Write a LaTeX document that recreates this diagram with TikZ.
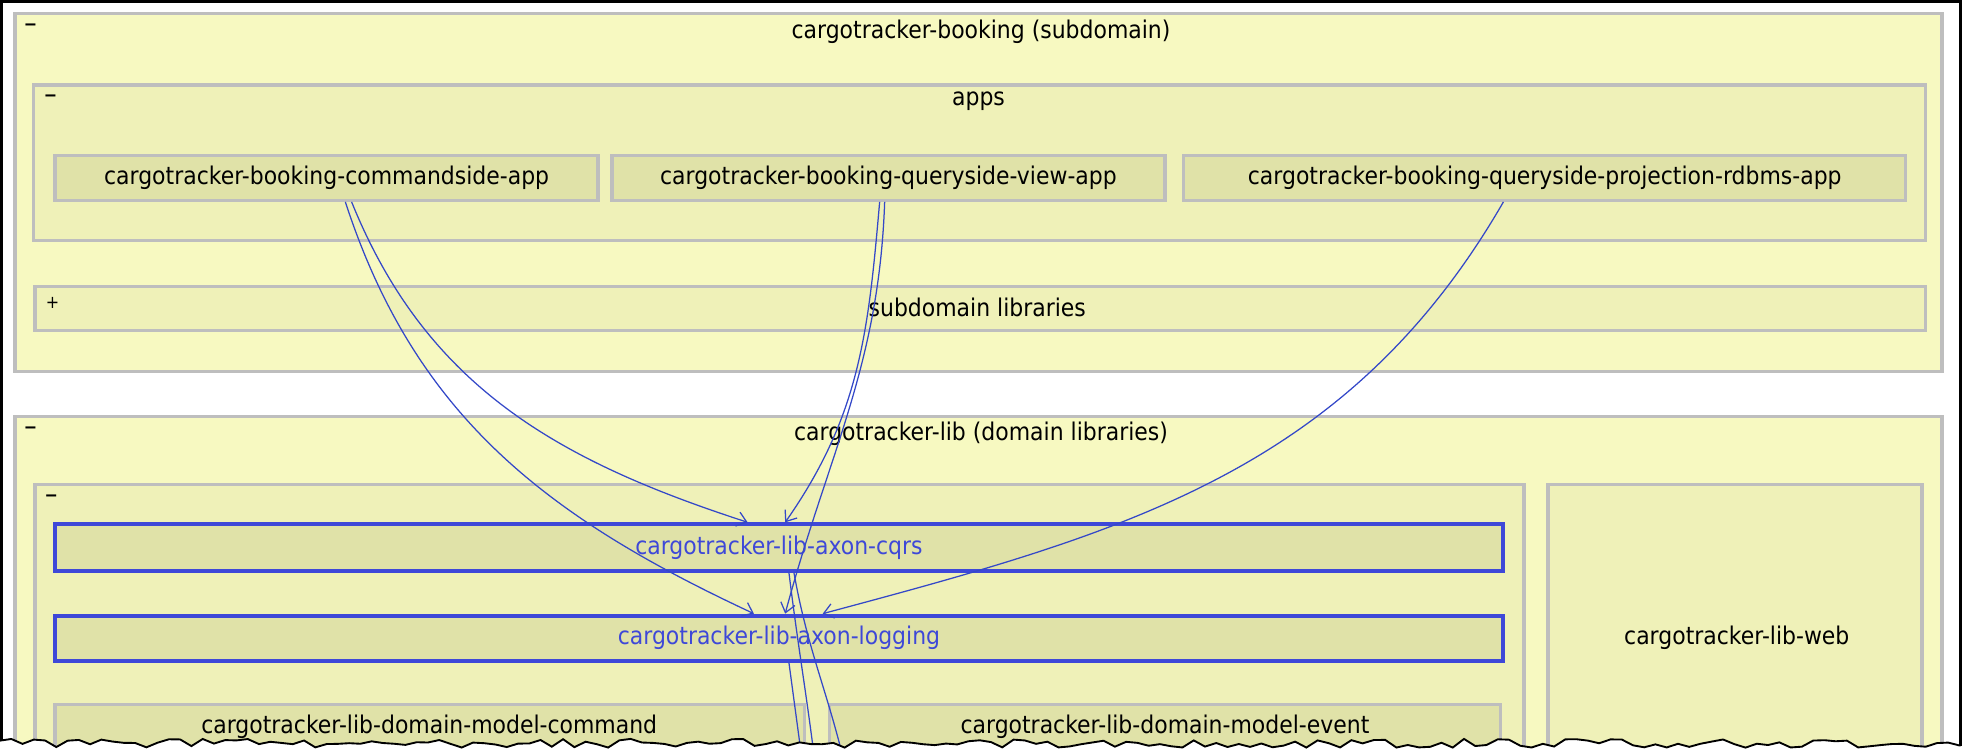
\documentclass[tikz,border=0pt]{standalone}
\usepackage{fontspec}
\setmainfont{DejaVu Sans}[FakeStretch=0.9]
\usepackage{tikz}
\usetikzlibrary{positioning, calc, fit}
\usetikzlibrary{arrows.meta}

\definecolor{subfill}{RGB}{247,249,193}
\definecolor{grpfill}{RGB}{239,241,184}
\definecolor{modfill}{RGB}{224,226,168}
\definecolor{framegray}{RGB}{190,190,190}
\definecolor{selblue}{RGB}{62,72,216}
\definecolor{depblue}{RGB}{52,72,200}

\tikzset{
  frame/.style={draw=framegray, line width=1.6pt, inner sep=0pt},
  domainbox/.style={frame, fill=subfill},
  groupbox/.style={frame, fill=grpfill},
  modbox/.style={frame, fill=modfill},
  selbox/.style={modbox, draw=selblue, line width=1.9pt},
  seltext/.style={text=selblue},
  toggle/.style={inner sep=0pt, font=\fontsize{8.5}{9}\selectfont},
  dep/.style={depblue, line width=0.6pt, ->},
  deptail/.style={depblue, line width=0.6pt},
}

\begin{document}
\begin{tikzpicture}[x=0.6pt,y=-0.6pt,font=\fontsize{11.7}{14}\selectfont,>={Straight Barb[length=4.5pt,width=7pt]}]
\useasboundingbox (0,0) rectangle (1568,601);

% ==================== cargotracker-booking ====================
\node[domainbox, fit={(12,11) (1552,297)}] (booking) {};
\node[toggle] (bookingtog) at (24.5,22) {\bfseries −};
\node (bookingtitle) at (784,25) {cargotracker-booking (subdomain)};

% apps
\node[groupbox, fit={(27,68) (1539,192)}] (apps) {};
\node[toggle] (appstog) at (40.5,78.5) {\bfseries −};
\node (appstitle) at (782,81) {apps};

\node[modbox, fit={(44,124) (478,160)}, label=center:cargotracker-booking-commandside-app] (cmdapp) {};
\node[modbox, fit={(489,124) (931,160)}, label=center:cargotracker-booking-queryside-view-app] (viewapp) {};
\node[modbox, fit={(946,124) (1523,160)}, label=center:cargotracker-booking-queryside-projection-rdbms-app] (rdbmsapp) {};

% subdomain libraries (chiuso)
\node[groupbox, fit={(28,229) (1539,264)}] (sublibs) {};
\node[toggle] (sublibstog) at (42,242) {+};
\node (sublibstitle) at (781,246) {subdomain libraries};

% ==================== cargotracker-lib ====================
\node[domainbox, fit={(12,333) (1552,640)}] (lib) {};
\node[toggle] (libtog) at (24.5,344) {\bfseries −};
\node (libtitle) at (784,347) {cargotracker-lib (domain libraries)};

\node[groupbox, fit={(28,387) (1218,640)}] (libcore) {};
\node[toggle] (libcoretog) at (41,398) {\bfseries −};

\node[groupbox, fit={(1237,387) (1536,640)}] (libweb) {};
\node (libwebtitle) at (1388,510) {cargotracker-lib-web};

\node[selbox, fit={(44,419) (1201,456)}, label={[seltext]center:cargotracker-lib-axon-cqrs}] (cqrs) {};
\node[selbox, fit={(44,492) (1201,528)}, label={[seltext]center:cargotracker-lib-axon-logging}] (logging) {};

\node[modbox, fit={(44,563) (643,640)}] (cmdmodel) {};
\node (cmdmodeltitle) at (343,581) {cargotracker-lib-domain-model-command};
\node[modbox, fit={(663,563) (1199,640)}] (evtmodel) {};
\node (evtmodeltitle) at (931,581) {cargotracker-lib-domain-model-event};

% Dipendenze
\draw[dep] ($(cmdapp.south)+(20,0)$) to[out=-68,in=162] ($(cqrs.north)+(-25,0)$);
\draw[dep] ($(cmdapp.south)+(15,0)$) to[out=-72,in=155] ($(logging.north)+(-20,0)$);
\draw[dep] ($(viewapp.south)+(-7,0)$) to[out=-95,in=55] ($(cqrs.north)+(5,0)$);
\draw[dep] ($(viewapp.south)+(-3,0)$) to[out=-92,in=75] ($(logging.north)+(5,0)$);
\draw[dep] ($(rdbmsapp.south)+(-33,0)$) to[out=-120,in=15] ($(logging.north)+(35,0)$);

% verso moduli tagliati
\coordinate (belowA) at (652,615);
\coordinate (belowB) at (676,615);
\coordinate (belowC) at (642,615);
\draw[deptail] ($(cqrs.south)+(8,0)$) to[out=-83,in=97] (belowA);
\draw[deptail] ($(cqrs.south)+(12,0)$) to[out=-80,in=103] (belowB);
\draw[deptail] ($(logging.south)+(8,0)$) -- (belowC);

% Cornice e bordo strappato
\draw[line width=1.4pt] (1,601) -- (1,1) -- (1567,1) -- (1567,601);
\pgfmathsetseed{17}
\draw[line width=0.9pt, fill=white] (-3,625) -- (-3,594)
  \foreach \x in {0,9,...,1566} { -- (\x,{594+3.5*rand}) }
  -- (1572,594) -- (1572,625) -- cycle;

\end{tikzpicture}
\end{document}
